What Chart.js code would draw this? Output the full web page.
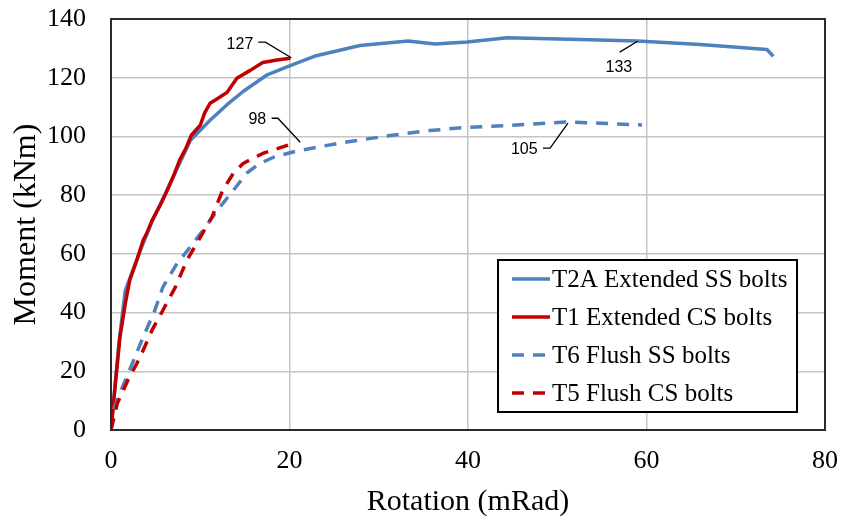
<!DOCTYPE html>
<html>
<head>
<meta charset="utf-8">
<title>Moment - Rotation</title>
<script src="https://cdn.jsdelivr.net/npm/chart.js@4.4.1/dist/chart.umd.min.js"></script>
<style>
  html, body { margin: 0; padding: 0; background: #fff; }
  #wrap { width: 843px; height: 520px; }
</style>
</head>
<body>
<div id="wrap"><canvas id="chart" width="843" height="520"></canvas></div>
<script>
// ===== DATA =====
const seriesNames = [
  "T2A Extended SS bolts",
  "T1 Extended CS bolts",
  "T6 Flush SS bolts",
  "T5 Flush CS bolts",
];

// T2A Extended SS bolts
const t2aRot = [0, 0.3, 0.9, 1.6, 2.4, 3.4, 4.6, 6.0, 7.4, 8.9, 11.1, 13.0, 14.8, 17.5, 20.0, 23.0, 27.9, 33.3, 36.3, 39.9, 44.4, 52.5, 59.0, 66.0, 73.5, 74.2];
const t2aMom = [0, 10, 30, 47.5, 54, 62, 71, 80, 89, 98.7, 105.5, 110.8, 115.3, 121, 124, 127.5, 131, 132.5, 131.5, 132.2, 133.6, 133, 132.5, 131.3, 129.6, 127.3];

// T1 Extended CS bolts
const t1Rot = [0, 0.45, 1.0, 1.6, 2.1, 2.8, 3.6, 4.0, 4.6, 5.5, 6.3, 7.0, 7.7, 8.4, 9.0, 10.0, 10.5, 11.1, 12.0, 13.0, 14.1, 15.6, 17.0, 18.6, 20.1];
const t1Mom = [0, 14.5, 31.6, 43, 51, 57, 64.6, 67, 71.4, 76.5, 81.6, 86.5, 92, 96, 100.4, 103.8, 108, 111.3, 113, 115, 119.8, 122.5, 125.2, 126, 126.6];

// T6 Flush SS bolts
const t6Rot = [0, 0.25, 1.2, 2.3, 3.6, 4.9, 5.8, 7.4, 8.85, 10.5, 11.9, 13.7, 15.2, 16.5, 18.2, 20.5, 23.4, 26.8, 31.3, 35.7, 39.9, 45, 51.1, 55, 59.5];
const t6Mom = [0, 6.6, 14, 22, 31.6, 40.7, 48.6, 56.7, 62.2, 68.7, 74.8, 81.6, 87.5, 90.5, 92.9, 94.8, 96.5, 98.3, 100.3, 102, 103.1, 103.8, 104.9, 104.5, 103.9];

// T5 Flush CS bolts
const t5Rot = [0, 0.7, 1.9, 3.25, 4.6, 5.8, 7.2, 8.5, 10.0, 10.9, 11.3, 12.5, 13.7, 14.8, 17.0, 20.4];
const t5Mom = [0, 9, 17, 24.7, 34, 40.7, 48.6, 57.8, 65.6, 70.4, 72.4, 81.6, 87.4, 90.8, 94.2, 97.6];

// axis ticks
const xTicks = [0, 20, 40, 60, 80];
const yTicks = [0, 20, 40, 60, 80, 100, 120, 140];

// peak value callouts (label centre + leader line, in data units)
const noteText = ["127", "98", "105", "133"];
const noteX = [14.45, 16.4, 46.3, 56.9];
const noteY = [131.4, 105.8, 95.4, 123.4];
const noteLines = [
  [[16.5, 132.1], [17.3, 132.1], [20.2, 126.8]],
  [[18.0, 106.2], [18.7, 106.2], [21.2, 98.0]],
  [[48.4, 96.0], [49.2, 96.0], [51.2, 104.5]],
  [[57.0, 128.7], [59.0, 132.4]],
];

// ===== HELPERS =====
function toPoints(xs, ys) {
  return xs.map((x, i) => ({ x: x, y: ys[i] }));
}

const BLUE = "#4f81bd";
const RED = "#c00000";
const SERIF = "'Liberation Serif', 'Times New Roman', serif";

// frame round the plot area
const frame = {
  id: "frame",
  afterDraw(chart) {
    const a = chart.chartArea;
    const ctx = chart.ctx;
    ctx.save();
    ctx.strokeStyle = "#2b2b2b";
    ctx.lineWidth = 2;
    ctx.strokeRect(a.left, a.top, a.right - a.left, a.bottom - a.top);
    ctx.restore();
  },
};

// callout numbers
const notes = {
  id: "notes",
  afterDatasetsDraw(chart) {
    const ctx = chart.ctx;
    const xs = chart.scales.x;
    const ys = chart.scales.y;
    ctx.save();
    ctx.strokeStyle = "#000";
    ctx.lineWidth = 1.3;
    noteLines.forEach((pts) => {
      ctx.beginPath();
      pts.forEach((p, i) => {
        const px = xs.getPixelForValue(p[0]);
        const py = ys.getPixelForValue(p[1]);
        if (i === 0) ctx.moveTo(px, py);
        else ctx.lineTo(px, py);
      });
      ctx.stroke();
    });
    ctx.fillStyle = "#000";
    ctx.font = "16px 'Liberation Sans', Arial, sans-serif";
    ctx.textAlign = "center";
    ctx.textBaseline = "middle";
    noteText.forEach((t, i) => {
      ctx.fillText(t, xs.getPixelForValue(noteX[i]), ys.getPixelForValue(noteY[i]));
    });
    ctx.restore();
  },
};

// boxed legend inside the plot, lower right
const boxLegend = {
  id: "boxLegend",
  afterDraw(chart) {
    const a = chart.chartArea;
    const ctx = chart.ctx;
    const right = a.right - 28;
    const bottom = a.bottom - 18;
    const w = 299;
    const h = 152;
    const left = right - w;
    const top = bottom - h;
    ctx.save();
    ctx.fillStyle = "#fff";
    ctx.fillRect(left, top, w, h);
    ctx.strokeStyle = "#000";
    ctx.lineWidth = 2;
    ctx.strokeRect(left, top, w, h);

    ctx.font = "25px " + SERIF;
    ctx.textBaseline = "middle";
    ctx.textAlign = "left";
    chart.data.datasets.forEach((ds, i) => {
      const y = top + 19 + i * 38;
      ctx.strokeStyle = ds.borderColor;
      ctx.lineWidth = ds.borderWidth;
      ctx.setLineDash(ds.borderDash || []);
      ctx.beginPath();
      ctx.moveTo(left + 14, y);
      ctx.lineTo(left + 52, y);
      ctx.stroke();
      ctx.setLineDash([]);
      ctx.fillStyle = "#000";
      ctx.fillText(ds.label, left + 54, y + 1);
    });
    ctx.restore();
  },
};

// ===== CHART =====
const ctx = document.getElementById("chart").getContext("2d");

new Chart(ctx, {
  type: "line",
  data: {
    datasets: [
      {
        label: seriesNames[0],
        data: toPoints(t2aRot, t2aMom),
        borderColor: BLUE,
        borderWidth: 3.5,
        order: 3,
      },
      {
        label: seriesNames[1],
        data: toPoints(t1Rot, t1Mom),
        borderColor: RED,
        borderWidth: 3.5,
        order: 2,
      },
      {
        label: seriesNames[2],
        data: toPoints(t6Rot, t6Mom),
        borderColor: BLUE,
        borderWidth: 3.5,
        borderDash: [12, 9],
        order: 1,
      },
      {
        label: seriesNames[3],
        data: toPoints(t5Rot, t5Mom),
        borderColor: RED,
        borderWidth: 3.5,
        borderDash: [12, 9],
        order: 0,
      },
    ],
  },
  options: {
    responsive: false,
    animation: false,
    elements: {
      point: { radius: 0, hoverRadius: 0 },
      line: { tension: 0, fill: false, borderCapStyle: "butt", borderJoinStyle: "round" },
    },
    layout: { padding: { top: 19, right: 18, left: 0, bottom: 0 } },
    plugins: {
      legend: { display: false },
      tooltip: { enabled: false },
    },
    scales: {
      x: {
        type: "linear",
        min: 0,
        max: 80,
        afterBuildTicks: (scale) => {
          scale.ticks = xTicks.map((v) => ({ value: v }));
        },
        afterFit: (scale) => {
          scale.height = 90;
          scale.paddingLeft = 0;
          scale.paddingRight = 0;
        },
        grid: { color: "#c4c4c4", lineWidth: 1.5, drawTicks: false },
        border: { display: false },
        ticks: {
          padding: 16,
          color: "#000",
          font: { family: SERIF, size: 26 },
        },
        title: {
          display: true,
          text: "Rotation (mRad)",
          color: "#000",
          font: { family: SERIF, size: 30 },
          padding: { top: 0, bottom: 0 },
        },
      },
      y: {
        type: "linear",
        min: 0,
        max: 140,
        afterBuildTicks: (scale) => {
          scale.ticks = yTicks.map((v) => ({ value: v }));
        },
        afterFit: (scale) => {
          scale.width = 111;
          scale.paddingTop = 0;
          scale.paddingBottom = 0;
        },
        grid: { color: "#c4c4c4", lineWidth: 1.5, drawTicks: false },
        border: { display: false },
        ticks: {
          padding: 25,
          color: "#000",
          font: { family: SERIF, size: 26 },
        },
        title: {
          display: true,
          text: "Moment (kNm)",
          color: "#000",
          font: { family: SERIF, size: 32 },
          padding: { top: 7, bottom: 0 },
        },
      },
    },
  },
  plugins: [frame, notes, boxLegend],
});
</script>
</body>
</html>
